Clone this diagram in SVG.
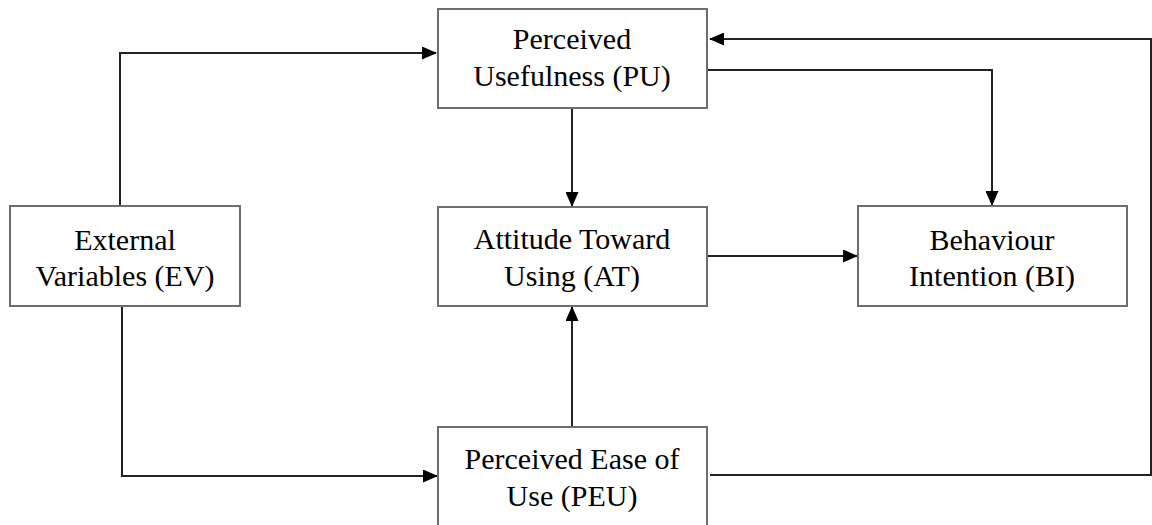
<svg xmlns="http://www.w3.org/2000/svg" width="1152" height="525" viewBox="0 0 1152 525">
<defs>
<marker id="ah" markerWidth="15" markerHeight="13" refX="14" refY="6.5" orient="auto" markerUnits="userSpaceOnUse">
<path d="M0,0 L15,6.5 L0,13 Z" fill="#000"/>
</marker>
<style>
.box{fill:#fff;stroke:#6e6e6e;stroke-width:2}
.lbl{font-family:"Liberation Serif","Times New Roman",serif;font-size:30px;fill:#000;text-anchor:middle}
.con{fill:none;stroke:#222;stroke-width:2}
</style>
</defs>
<rect width="1152" height="525" fill="#fff"/>
<g id="connectors">
<path class="con" d="M120,206 V53 H436" marker-end="url(#ah)"/>
<path class="con" d="M122,306 V476 H437" marker-end="url(#ah)"/>
<path class="con" d="M572,108 V206" marker-end="url(#ah)"/>
<path class="con" d="M572,427 V307" marker-end="url(#ah)"/>
<path class="con" d="M707,256 H857" marker-end="url(#ah)"/>
<path class="con" d="M707,70 H992 V205" marker-end="url(#ah)"/>
<path class="con" d="M710,475 H1151 V39 H710" marker-end="url(#ah)"/>
</g>
<g id="PU">
<rect class="box" x="438" y="9" width="269" height="99"/>
<text class="lbl" x="572" y="49">Perceived</text>
<text class="lbl" x="572" y="86">Usefulness (PU)</text>
</g>
<g id="EV">
<rect class="box" x="10" y="206" width="230" height="100"/>
<text class="lbl" x="125" y="250">External</text>
<text class="lbl" x="125" y="286">Variables (EV)</text>
</g>
<g id="AT">
<rect class="box" x="438" y="207" width="269" height="99"/>
<text class="lbl" x="572" y="249">Attitude Toward</text>
<text class="lbl" x="572" y="286">Using (AT)</text>
</g>
<g id="BI">
<rect class="box" x="858" y="206" width="269" height="100"/>
<text class="lbl" x="992" y="250">Behaviour</text>
<text class="lbl" x="992" y="286">Intention (BI)</text>
</g>
<g id="PEU">
<rect class="box" x="438" y="427" width="269" height="100"/>
<text class="lbl" x="572" y="469">Perceived Ease of</text>
<text class="lbl" x="572" y="506">Use (PEU)</text>
</g>
</svg>
